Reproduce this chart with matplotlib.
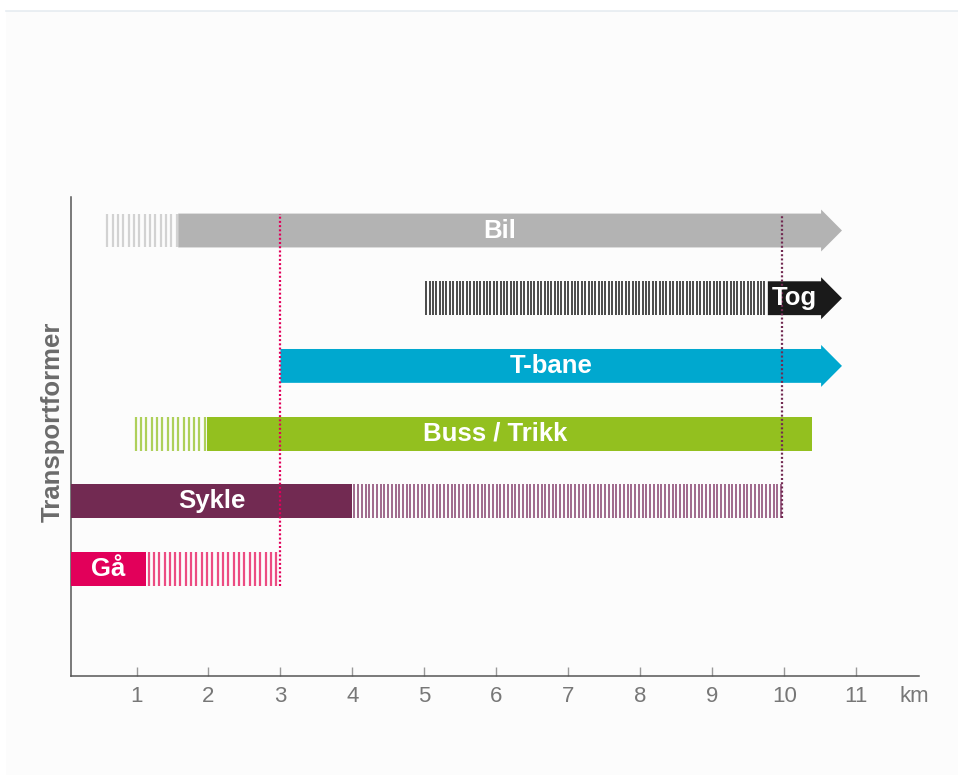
import numpy as np
import matplotlib
matplotlib.use("Agg")
import matplotlib.pyplot as plt
from matplotlib.patches import Polygon, Rectangle
from matplotlib.lines import Line2D
import matplotlib.transforms as mtransforms
from matplotlib import font_manager

# ---- data ----
modes = ["Gå", "Sykle", "Buss / Trikk", "T-bane", "Tog", "Bil"]
solid_start = [0.0, 0.0, 1.98, 3.0, 9.77, 1.58]
solid_end = [1.13, 4.0, 10.38, 10.8, 10.8, 10.8]
hatch_start = [1.13, 4.0, 0.95, np.nan, 5.0, 0.56]
hatch_end = [3.0, 9.97, 1.98, np.nan, 9.77, 1.58]
has_arrow = [False, False, False, True, True, True]
ref_lines_km = [3.0, 9.97]
ref_line_top = ["Bil", "Bil"]
ref_line_bottom = ["Gå", "Sykle"]
xticks = [1, 2, 3, 4, 5, 6, 7, 8, 9, 10, 11]
unit = "km"
ylabel = "Transportformer"

# ---- styles ----
solid_colors = ["#e2005a", "#722a52", "#93c01f", "#00a8cf", "#1a1a1a", "#b3b3b3"]
stripe_colors = ["#ec4c82", "#8f5078", "#aed05a", "#00a8cf", "#222222", "#d2d2d2"]
stripe_period = [0.074, 0.052, 0.074, 0.074, 0.047, 0.074]
stripe_lw = [1.6, 1.2, 1.6, 1.6, 1.15, 1.6]
ref_line_colors = ["#e2005a", "#722a52"]

avail = {f.name for f in font_manager.fontManager.ttflist}
narrow = "Liberation Sans Narrow" if "Liberation Sans Narrow" in avail else "Liberation Sans"
tick_fs = 14 if narrow == "Liberation Sans Narrow" else 16
plt.rcParams["font.family"] = ["Liberation Sans", "DejaVu Sans"]

W, H = 958, 775
fig = plt.figure(figsize=(W / 100, H / 100), dpi=100, facecolor="white")
# light panel background
fig.patches.append(Rectangle((6 / W, 0), 1 - 6 / W, 1 - 11 / H, transform=fig.transFigure,
                             facecolor="#fcfcfc", edgecolor="none", zorder=-10))
fig.lines.append(Line2D([6 / W, 1], [1 - 11 / H, 1 - 11 / H], transform=fig.transFigure,
                        color="#e6ecf1", lw=1.2, zorder=-9))

ax = fig.add_axes([71 / W, (H - 676) / H, (919 - 71) / W, (676 - 197) / H])
ax.set_facecolor("none")
ax.set_xlim(0.09, 11.87)
ax.set_ylim(-1.58, 5.495)

bar_h = 0.5
head_h = 0.62
head_len = 0.29
ypos = np.arange(len(modes))

for i, y in enumerate(ypos):
    c = solid_colors[i]
    # striped (uncertain range) segment
    hs, he = hatch_start[i], hatch_end[i]
    if not np.isnan(hs):
        xs = np.arange(hs + stripe_period[i] / 2, he, stripe_period[i])
        ax.vlines(xs, y - bar_h / 2, y + bar_h / 2, colors=stripe_colors[i],
                  linewidth=stripe_lw[i], zorder=2)
    # solid segment
    s, e = solid_start[i], solid_end[i]
    if has_arrow[i]:
        be = e - head_len
        pts = [(s, y - bar_h / 2), (be, y - bar_h / 2), (be, y - head_h / 2), (e, y),
               (be, y + head_h / 2), (be, y + bar_h / 2), (s, y + bar_h / 2)]
        ax.add_patch(Polygon(pts, closed=True, facecolor=c, edgecolor="none", zorder=3))
        label_x = (max(s, ax.get_xlim()[0]) + be) / 2
    else:
        ax.barh(y, e - s, left=s, height=bar_h, color=c, edgecolor="none", zorder=3)
        label_x = (max(s, ax.get_xlim()[0]) + e) / 2
    if modes[i] == "Buss / Trikk":
        label_x -= 0.2
    ax.text(label_x, y, modes[i], color="white", fontsize=18.5, fontweight="bold",
            ha="center", va="center", zorder=6)

# reference dotted lines
for xk, top, bot, col in zip(ref_lines_km, ref_line_top, ref_line_bottom, ref_line_colors):
    yt = modes.index(top) + bar_h / 2
    yb = modes.index(bot) - bar_h / 2
    ax.plot([xk, xk], [yb, yt], color=col, lw=1.6, linestyle=(0, (0.9, 1.0)), zorder=5)

# axes styling
for side in ["top", "right"]:
    ax.spines[side].set_visible(False)
for side in ["left", "bottom"]:
    ax.spines[side].set_color("#555555")
    ax.spines[side].set_linewidth(1.1)
ax.set_yticks([])
ax.set_xticks(xticks)
ax.set_xticklabels([str(t) for t in xticks], family=narrow, fontsize=tick_fs, color="#777777")
ax.tick_params(axis="x", direction="in", length=6.5, width=1.0, color="#999999", pad=7)
trans = mtransforms.blended_transform_factory(ax.transData, ax.transAxes)
ax.text(11.8, 0, unit, family=narrow, fontsize=tick_fs, color="#777777",
        ha="center", va="center",
        transform=trans + mtransforms.ScaledTranslation(0, -21 / 100, fig.dpi_scale_trans))

ax.text(-0.022, 0.53, ylabel, transform=ax.transAxes, rotation=90, fontsize=18.5,
        fontweight="bold", color="#6b6b6b", ha="center", va="center")

fig.savefig("out.png", dpi=100, facecolor=fig.get_facecolor())
